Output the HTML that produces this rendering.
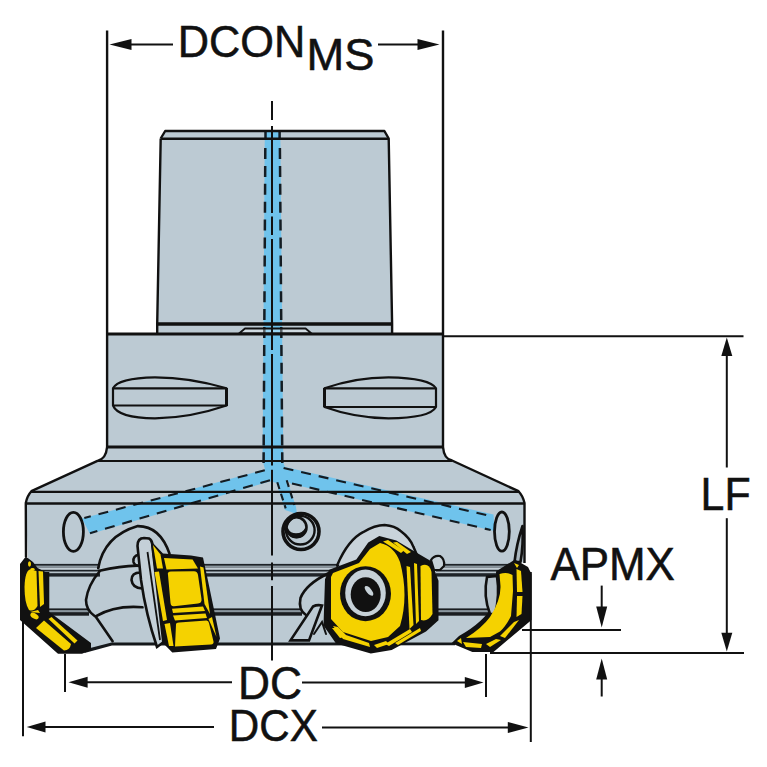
<!DOCTYPE html>
<html><head><meta charset="utf-8">
<style>
html,body{margin:0;padding:0;background:#fff;width:767px;height:767px;overflow:hidden}
svg{display:block}
text{font-family:"Liberation Sans",sans-serif;fill:#111}
</style></head><body>
<svg width="767" height="767" viewBox="0 0 767 767">
<!-- body fills -->
<g fill="#bccad3" stroke="none">
  <path d="M165.2,131 L384.4,131 L388.7,138.5 L392.1,324 L392.1,334 L157.2,334 L157.2,324 L160.7,138.5 Z"/>
  <path d="M107.1,334 L443,334 L443,447 Q444,459 452,460.5 L518.5,491.2 Q523,496 524.5,503 L524.5,563 L514.9,560.5 L527.2,568.7 L528.6,619.4 L493,650.9 L472.4,650.9 L453.2,642.7 L111.6,644 L83.5,651.5 L75.2,652.5 L56.6,652.5 L21,618.8 L21,565.8 L27.9,557.9 L25.8,503 Q27,496 31.4,491.2 L98,460.5 Q106,459 107.1,447 Z"/>
</g>
<!-- coolant channels -->
<g fill="#6fc3ec" stroke="none">
  <path d="M264.8,131 L280.3,131 L283.3,463 L262.6,463 Z"/>
  <path d="M82,518.6 L265,469.6 L263,462 L283,462 L285,467 L493.5,514.5 L494.5,531 L291.5,484 L287.5,481 L296,507 L297,514 L285,510 L276.5,483 L270.5,481.2 L90,534 Z"/>
</g>
<g fill="none" stroke="#141c22" stroke-width="2.5">
  <path d="M265.3,148 L263.6,463" stroke-dasharray="11,6.9"/>
  <path d="M279.9,148 L282.3,463" stroke-dasharray="11,6.9"/>
  <path d="M265.5,131 V139 M279.6,131 V139"/>
  <path d="M264.8,470.3 L84.3,518" stroke-dasharray="10,8" stroke-width="2.1"/>
  <path d="M270,480.2 L90,533.2" stroke-dasharray="10,8" stroke-width="2.1"/>
  <path d="M283.6,468 L492.3,516.4" stroke-dasharray="10,8" stroke-width="2.1"/>
  <path d="M292,483.5 L490.7,530" stroke-dasharray="10,8" stroke-width="2.1"/>
  <path d="M277.3,482.3 L285.7,508.4" stroke-dasharray="7,5" stroke-width="2.1"/>
  <path d="M286.7,480.2 L294.4,505" stroke-dasharray="7,5" stroke-width="2.1"/>
</g>
<!-- outlines upper -->
<g fill="none" stroke="#111" stroke-width="2.4" stroke-linejoin="round">
  <path d="M160.7,138.5 L165.2,131 L384.4,131 L388.7,138.5 L392.1,324 L392.1,334"/>
  <path d="M160.7,138.5 L157.2,324 L157.2,334"/>
  <line x1="160.7" y1="138.7" x2="388.7" y2="138.7"/>
  <line x1="157.2" y1="324" x2="392.1" y2="324" stroke-width="3.4"/>
  <path d="M239,333.5 L245,328.5 L305.6,328.5 L311.5,333.5 Z" fill="#ffffff" fill-opacity="0.3" stroke-width="1.8"/>
  <path d="M107.1,30.5 L107.1,447 Q106,459 97.5,460.8 L31.4,491.2 Q27,496 25.8,503 L26,557"/>
  <path d="M443,30.5 L443,447 Q444,459 452,460.5 L518.5,491.2 Q523,496 524.5,503 L524.5,563"/>
  <line x1="107.1" y1="334" x2="443" y2="334" stroke-width="3.2"/>
  <line x1="107.1" y1="447" x2="443" y2="447" stroke-width="3.2"/>
  <line x1="98" y1="461" x2="452" y2="461" stroke-width="2.2"/>
  <line x1="31" y1="491.8" x2="519" y2="491.8" stroke-width="2.2"/>
  <line x1="26" y1="503.5" x2="524.5" y2="503.5" stroke-width="2.4"/>
  <path d="M226.5,388.3 Q190,377.3 155,377.3 Q118,378 113,388.3 L113,405.5 Q118,418 155,418.4 Q190,418 226.5,405.5 Z" stroke-width="2.2"/>
  <line x1="113" y1="388.3" x2="226.5" y2="388.3" stroke-width="2.2"/>
  <line x1="113" y1="405.5" x2="226.5" y2="405.5" stroke-width="2.2"/><line x1="226.5" y1="388" x2="226.5" y2="406" stroke-width="3"/>
  <path d="M324.5,388.3 Q355,377.3 388.5,377.3 Q430,378 436,388.3 L436,407 Q430,418 388.5,418.4 Q355,418 324.5,407 Z" stroke-width="2.2"/>
  <line x1="324.5" y1="388.3" x2="436" y2="388.3" stroke-width="2.2"/>
  <line x1="324.5" y1="407" x2="436" y2="407" stroke-width="2.2"/><line x1="324.5" y1="388" x2="324.5" y2="407" stroke-width="3"/>
  <ellipse cx="73.4" cy="531.8" rx="10" ry="19.5" stroke-width="2.8"/>
  <ellipse cx="501.9" cy="531.6" rx="7.4" ry="19.6" stroke-width="2.8"/>
  <!-- small hole -->
  <circle cx="301" cy="531.5" r="18" stroke-width="3.6"/>
  <circle cx="300.3" cy="530.2" r="14.3" stroke-width="2.4"/>
  <circle cx="296.5" cy="527.3" r="10" stroke-width="2.6"/>
  <path d="M287.5,529 Q290,538 297,537.5 Q305,537 306,528 Q303,534 296,534 Q290,534 287.5,529 Z" fill="#111" stroke-width="1.5"/>
  <path d="M522.5,526 Q516.5,544 514.5,562 L520.5,562 Q523.5,545 522.5,526 Z" fill="#a9b6be" stroke-width="2.6"/>
</g>
<!-- grooves -->
<g stroke="none">
  <rect x="34" y="563.9" width="66" height="12.7" fill="#1e2328"/>
  <rect x="34" y="565.6" width="66" height="2.1" fill="#8a969e"/>
  <rect x="34" y="567.7" width="66" height="2.1" fill="#c3ced5"/>
  <rect x="38" y="571.5" width="62" height="1.7" fill="#b8c4cb"/>
  <rect x="204" y="563.9" width="134" height="12.7" fill="#1e2328"/>
  <rect x="204" y="565.6" width="134" height="2.1" fill="#8a969e"/>
  <rect x="204" y="567.7" width="134" height="2.1" fill="#c3ced5"/>
  <rect x="204" y="571.5" width="134" height="1.7" fill="#b8c4cb"/>
  <rect x="436" y="563.9" width="76" height="12.7" fill="#1e2328"/>
  <rect x="436" y="565.6" width="76" height="2.1" fill="#8a969e"/>
  <rect x="436" y="567.7" width="76" height="2.1" fill="#c3ced5"/>
  <rect x="436" y="571.5" width="76" height="1.7" fill="#b8c4cb"/>
  <rect x="47" y="608.4" width="42" height="7.3" fill="#1a1d20"/>
  <rect x="47" y="610.1" width="42" height="2.1" fill="#8a969e"/>
  <rect x="210" y="608.4" width="92" height="7.3" fill="#1a1d20"/>
  <rect x="210" y="610.1" width="92" height="2.1" fill="#8a969e"/>
  <rect x="436" y="608.4" width="54" height="7.3" fill="#1a1d20"/>
  <rect x="436" y="610.1" width="54" height="2.1" fill="#8a969e"/>
  <path d="M83.5,649.8 L111.6,642.6 L455,642.4 L455,645.2 L112,645.6 L84.5,653 Z" fill="#15181b"/>
</g>
<!-- pockets -->
<g fill="none" stroke="#111" stroke-width="2.6" stroke-linecap="round">
  <path d="M98.2,568.2 Q104,536 137.8,526.1 Q160,526 169.5,553.7"/>
  <path d="M99.5,570.8 Q120,566 137.3,565.6"/>
  <path d="M99.5,571.5 Q88,585 86,600 Q86,610 94.3,615.8"/>
  <path d="M95.6,616.4 Q115,605 142.5,607.3"/>
  <path d="M95.6,616.4 L112.6,641.2"/>
  <path d="M140.5,572.5 Q131.5,572.5 131.5,580 Q132.5,588 142,588.5"/>
  <path d="M139,554.5 Q132.5,556 133.5,562 Q134.5,566 139.5,566"/>
  <path d="M329,573 Q306,584 300.5,598 Q298,610 306,615"/>
  <path d="M348.9,548.6 L337.4,565.8"/>
  <path d="M313,606.5 Q317,604.5 322,605.5 L309,640.4 L290.5,640.4 Z" fill="#bccad3"/>
  <path d="M314,634 L322,622 L326,634" stroke-width="2"/>
  <path d="M337.2,565.2 Q348,540 363,532.2 Q375,525 384.6,525 Q395,526 400.3,530.8 Q410,538 413.3,546.6 L417.6,556.6 L406,548 L392,538.7 L380,538 L370,543.7 L356,562 Z" fill="#c9d3da" stroke="none"/>
  <path d="M337.2,565.2 Q348,540 363,532.2 Q375,525 384.6,525 Q395,526 400.3,530.8 Q410,538 413.3,546.6 L417.6,556.6" stroke-width="2.5"/>
</g>
<!-- inserts -->
<g stroke="none">
  <!-- A -->
  <path d="M25.8,556.5 L33,562 L37.6,568 L45.4,572 L49.3,572 L49.3,612 L91,643 L91,650 L82,653.8 L58,653.8 L20,620 L20,564 Z" fill="#111"/>
  <path d="M24.5,587 Q25,571 30,569.5 L36.5,571 L37.5,606 Q34,612 29,610 Q24.5,603 24.5,587 Z" fill="#f5d200"/>
  <path d="M38.5,571 L43,571.5 L44,604 L40,607 Z" fill="#f5d200"/>
  <ellipse cx="34.5" cy="616" rx="4.5" ry="2.6" transform="rotate(30 34.5 616)" fill="#f5d200"/>
  <ellipse cx="29.5" cy="564" rx="1.5" ry="2.8" fill="#f5d200"/>
  <ellipse cx="32.5" cy="569.5" rx="2.2" ry="1.4" fill="#f5d200"/>
  <path d="M36,628 L44,620.5 L71,644 Q70,650 64,650.5 Z" fill="#f5d200"/>
  <path d="M48.5,619 L51.5,617 L77.5,640.5 L74.5,643.5 Z" fill="#f5d200"/>
  <path d="M30,612 L40,613 L38,610 Z" fill="#f5d200"/>
  <!-- wedge B -->
  <path d="M137.5,546 Q137.5,538 144,538 L149,538.5 Q152,540 152.5,545 L165,641 L157,647 Q146,615 141,580 Z" fill="#c4d0d8" stroke="#111" stroke-width="2.6"/>
  <path d="M147.5,552 L160,640" fill="none" stroke="#111" stroke-width="1.8"/>
  <!-- B -->
  <path d="M150.5,540.5 L163,553.5 L191,555.5 L203,557.5 L208,580.8 L220,638.5 L216,649 L172.3,652.5 L162,642 Z" fill="#111"/>
  <g fill="#f5d200">
    <path d="M153,545 L160.5,554.5 L163,568.5 L157,568.5 Z"/>
    <path d="M164,558 L192.6,559.5 L198,568.5 L166.5,569.5 Z"/>
    <path d="M168,575 Q167,571.5 171,571.5 L194,571.2 Q197.5,571.2 198,575 L201.5,599 Q202,603 198,603.5 L174,606.2 Q171,606.5 170.5,603 Z"/>
    <path d="M200,566.5 L203.5,567.5 L210,614 L204.5,604 Z"/>
    <path d="M154.5,572 L159,571.5 L167,620 L163,621 Z"/>
    <path d="M172,608.8 L203,606.5 L205,611 L173,613 Z"/>
    <path d="M173,615.5 L205.5,613.5 L207,618 L175,620.5 Z"/>
    <path d="M176,624.5 Q176,622.5 179,622.5 L206.5,620.5 Q208.5,620.5 209,623 L213.5,641.5 Q214,644 211,644.5 L175,646.5 Z"/>
    <path d="M164.5,624 L170,623 L173.5,646 L169,646 Z"/>
    <path d="M208.5,619 L212,617 L216.5,637 Z"/>
  </g>
  <!-- C -->
  <path d="M325,579.2 L329.2,569.7 L356.3,559.5 L368.2,542.6 L379.3,536.1 L396.3,540.4 L415.9,552.2 L431.2,561.2 L438.5,580.8 L438.5,620.3 L426,631.5 L391.7,650.1 L370.8,653.5 L336,643.4 L323.5,625.5 Z" fill="#111"/>
  <g fill="#f5d200">
    <path d="M331,577 L333,573 L359,563 L370,549 L380,543 Q394,546 400,562 Q409,596 400,626 L388,637 L371,641 L343,632 L331,619 Z"/>
    <path d="M333,626 L338,627 L346,635 L369,643 L370,647 L343,639 Z"/>
    <path d="M374,645 L386,641 L389,644 L377,648 Z"/>
    <path d="M406.5,566 L410,567 L413.5,625 L409.5,629 Z"/>
    <path d="M414,563 L417,564 L419,621 L416,624 Z"/>
    <path d="M420.5,566 Q429,562 431.5,572 L432.5,614 Q428,622 421,620 Z"/>
    <path d="M383,541.5 L388,540 L404,550.5 L401,553 Z"/>
    <path d="M393,542.5 L397,542 L411,552 L407,554 Z"/>
    <path d="M385,644 L410,629 L412,632 L389,646 Z"/>
    <path d="M395,643 L420,628 L421,631 L398,645 Z"/>
    <path d="M332,628 L338,628 L345,637 L340,638 Z"/>
  </g>
  <ellipse cx="365.5" cy="593.7" rx="25.5" ry="27.5" fill="#111"/>
  <ellipse cx="365.5" cy="592.9" rx="20.3" ry="23.3" fill="#c6d1d8"/>
  <ellipse cx="365.7" cy="594.6" rx="15" ry="17.4" fill="#111"/>
  <ellipse cx="369" cy="590.8" rx="2.6" ry="6" fill="#c6d1d8" transform="rotate(-40 369 590.8)"/>
  <path d="M431,560 Q434,555 440,556 Q445,559 444,566 L440,570 L434,570 Z" fill="#c6d1d8" stroke="#111" stroke-width="2.2"/>
  <!-- D -->
  <path d="M514.9,559.5 L528,567 L531.5,574 L531.5,619.9 L493.5,652 L472.4,652 L451.5,643.2 L459,636 Q484,622 493,605 Q497,590 496,571.5 Z" fill="#111"/>
  <path d="M487,577 Q483,596 490,614 L495,614 Q500,596 497,576 Z" fill="#b4c1c9" stroke="#111" stroke-width="2.6"/>
  <g fill="#f5d200">
    <path d="M499.5,574 Q507,571.5 512.5,575 L513,591 L511,616 Q506,626 500,631.5 L490,637 L466,638 Q482,628 490,617 Q501,600 500.5,586 Z"/>
    <path d="M516.5,569 L521,571 L522.5,592 L517,592 Z"/>
    <path d="M517,596 L522.5,596 L521.5,614 L516.5,617 Z"/>
    <path d="M514,622 L519,620 L505,638 L500,636 Z"/>
    <path d="M496,639 L501,640 L490,647 L486,644 Z"/>
    <path d="M463,642 L482,644 L481,648 L466,647 Z"/>
    <path d="M457,641 L461,638 L462,644 Z"/>
    <path d="M514,563 L519,565 L517,568 Z"/>
  </g>
</g>
<!-- dimension lines -->
<g stroke="#111" stroke-width="2" fill="none">
  <line x1="126" y1="44.5" x2="173" y2="44.5"/>
  <line x1="378" y1="44.5" x2="425" y2="44.5"/>
  <line x1="443" y1="336.3" x2="743.5" y2="336.3"/>
  <line x1="490" y1="652.9" x2="744" y2="652.9"/>
  <line x1="522" y1="630" x2="621" y2="630"/>
  <line x1="726.8" y1="350" x2="726.8" y2="467.5"/>
  <line x1="726.8" y1="518.2" x2="726.8" y2="640"/>
  <line x1="601.7" y1="585.6" x2="601.7" y2="610"/>
  <line x1="601.7" y1="672" x2="601.7" y2="696.5"/>
  <line x1="23" y1="620" x2="23" y2="736.3"/>
  <line x1="530.8" y1="572" x2="530.8" y2="742"/>
  <line x1="65" y1="654" x2="65" y2="692"/>
  <line x1="486" y1="654" x2="486" y2="697"/>
  <line x1="40" y1="727" x2="214" y2="727"/>
  <line x1="322" y1="727.5" x2="512" y2="727.5"/>
  <line x1="82" y1="682.2" x2="232" y2="682.2"/>
  <line x1="302" y1="682.6" x2="468" y2="682.6"/>
  <path d="M272,101 V120 M272,126 V213 M272,216.5 V235 M272,239 V350 M272,354 V465.6 M272,469.8 V555.6 M272,562.6 V580.2 M272,586 V660.6"/>
</g>
<g fill="#111" stroke="none">
  <path d="M109.5,44.5 L131.5,39 L131.5,50 Z"/>
  <path d="M439.5,44.5 L417.5,39 L417.5,50 Z"/>
  <path d="M26.7,727 L45.5,721.5 L45.5,732.5 Z"/>
  <path d="M528.5,727.5 L507.8,722 L507.8,733 Z"/>
  <path d="M68.5,682.2 L87.6,676.7 L87.6,687.7 Z"/>
  <path d="M483.5,682.6 L464.8,677.1 L464.8,688.1 Z"/>
  <path d="M726.8,337.5 L721.3,356 L732.3,356 Z"/>
  <path d="M726.8,651.5 L721.3,632.8 L732.3,632.8 Z"/>
  <path d="M601.7,627.4 L596.2,606.5 L607.2,606.5 Z"/>
  <path d="M601.7,658.6 L596.2,679.5 L607.2,679.5 Z"/>
</g>
<g font-size="100" stroke="#111" stroke-width="1.2">
  <text transform="translate(177.84,56.60) scale(0.4331,0.4360)">DCON</text>
  <text transform="translate(306.48,69.50) scale(0.4526,0.4448)">MS</text>
  <text transform="translate(237.95,699.20) scale(0.4432,0.4578)">DC</text>
  <text transform="translate(228.82,741.40) scale(0.4219,0.4477)">DCX</text>
  <text transform="translate(700.57,509.50) scale(0.4286,0.4608)">LF</text>
  <text transform="translate(550.40,579.80) scale(0.4395,0.4666)">APMX</text>
</g>
</svg>
</body></html>
